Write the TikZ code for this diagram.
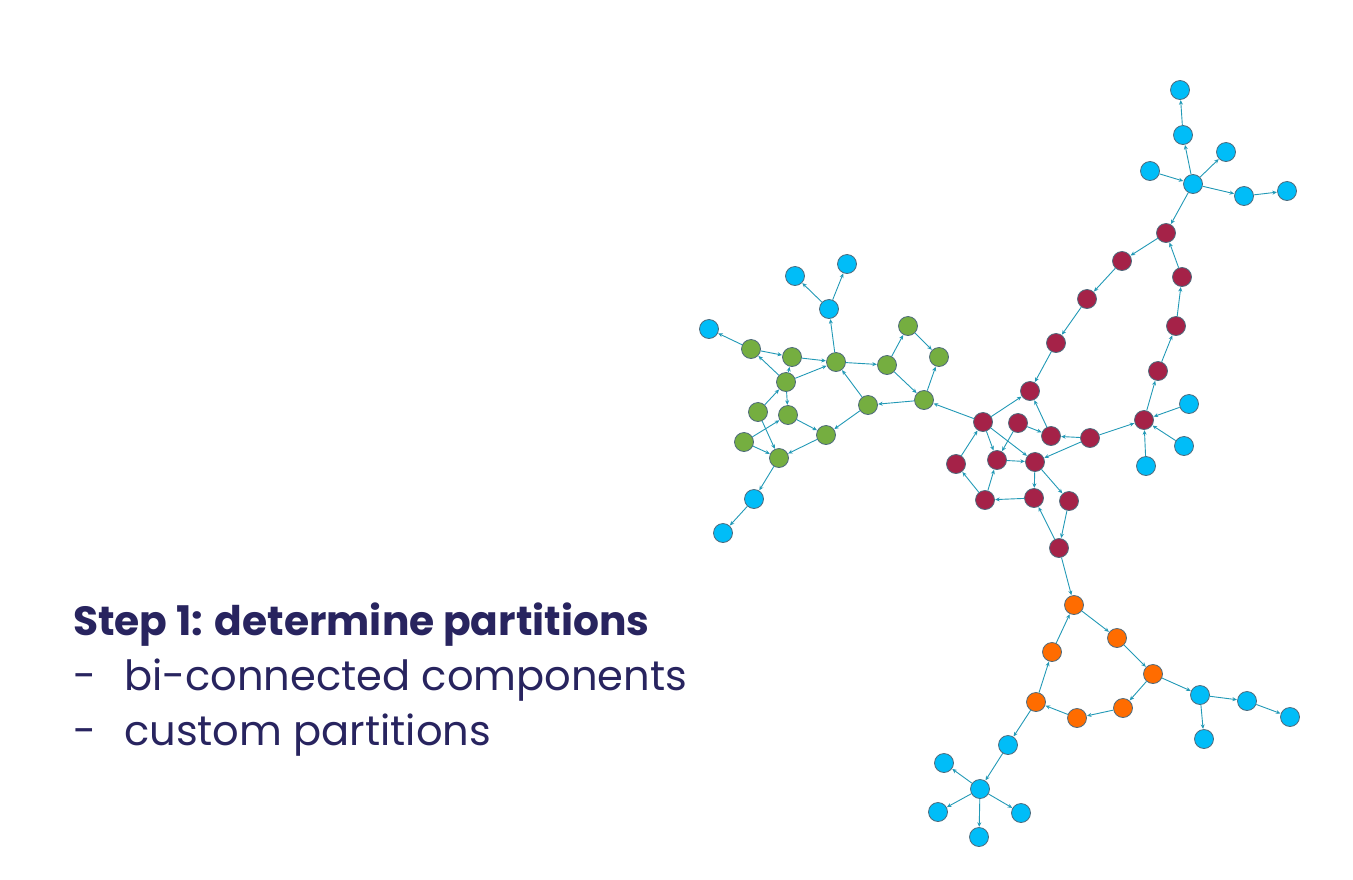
\documentclass[tikz,border=0pt]{standalone}
\usepackage{fontspec}
\setmainfont{Poppins}
\usetikzlibrary{arrows.meta}
\definecolor{cblue}{HTML}{00BDF8}
\definecolor{cgreen}{HTML}{75AE40}
\definecolor{cred}{HTML}{A52248}
\definecolor{corange}{HTML}{FF6C00}
\definecolor{cedge}{HTML}{2299B6}
\definecolor{cborder}{HTML}{4E6A7C}
\definecolor{ctext}{HTML}{28245F}
\tikzset{
  vtx/.style={circle, draw=cborder, line width=0.8pt, minimum size=19pt, inner sep=0pt},
  vb/.style={vtx, fill=cblue},
  vg/.style={vtx, fill=cgreen},
  vr/.style={vtx, fill=cred},
  vo/.style={vtx, fill=corange},
  arc/.style={draw=cedge, line width=0.9pt, -{Stealth[length=4.5pt,width=4pt]}, shorten >=0.3pt},
  txt/.style={anchor=base west, inner sep=0pt, text=ctext}
}
\begin{document}
\begin{tikzpicture}[x=1pt,y=-1pt]
\useasboundingbox (0,0) rectangle (1353,879);
% text
\node[txt, font=\fontsize{40.8}{48}\selectfont\bfseries] (t1) at (73,635) {Step 1: determine partitions};
\node[txt, font=\fontsize{41.6}{48}\selectfont] (t2) at (73,690) {-};
\node[txt, font=\fontsize{41.6}{48}\selectfont] (t3) at (124,690) {bi-connected components};
\node[txt, font=\fontsize{41.6}{48}\selectfont] (t4) at (73,745) {-};
\node[txt, font=\fontsize{41.6}{48}\selectfont] (t5) at (124,745) {custom partitions};
% top blue
\node[vb] (T1) at (1180,90) {};
\node[vb] (T2) at (1183,135) {};
\node[vb] (T3) at (1226,152) {};
\node[vb] (T4) at (1150,171) {};
\node[vb] (T5) at (1193,184) {};
\node[vb] (T6) at (1244,196) {};
\node[vb] (T7) at (1287,191) {};
% red
\node[vr] (R1) at (1166,233) {};
\node[vr] (R2) at (1122,261) {};
\node[vr] (R3) at (1087,299) {};
\node[vr] (R4) at (1056,343) {};
\node[vr] (R5) at (1030,391) {};
\node[vr] (R6) at (1182,277) {};
\node[vr] (R7) at (1176,326) {};
\node[vr] (R8) at (1158,371) {};
\node[vr] (R9) at (1144,420) {};
\node[vb] (B1) at (1189,404) {};
\node[vb] (B2) at (1184,446) {};
\node[vb] (B3) at (1146,466) {};
\node[vr] (Rb) at (983,422) {};
\node[vr] (Rc) at (1018,423) {};
\node[vr] (Rd) at (1051,436) {};
\node[vr] (Re) at (1090,438) {};
\node[vr] (Rf) at (956,464) {};
\node[vr] (Rg) at (997,460) {};
\node[vr] (Rh) at (1035,462) {};
\node[vr] (Ri) at (985,500) {};
\node[vr] (Rj) at (1034,498) {};
\node[vr] (Rk) at (1069,501) {};
\node[vr] (Rl) at (1059,548) {};
% orange
\node[vo] (O1) at (1074,605) {};
\node[vo] (O2) at (1117,638) {};
\node[vo] (O3) at (1153,674) {};
\node[vo] (O4) at (1052,652) {};
\node[vo] (O5) at (1036,702) {};
\node[vo] (O6) at (1077,718) {};
\node[vo] (O7) at (1123,708) {};
\node[vb] (C1) at (1200,695) {};
\node[vb] (C2) at (1247,701) {};
\node[vb] (C3) at (1290,717) {};
\node[vb] (C4) at (1204,739) {};
\node[vb] (L1) at (1008,745) {};
\node[vb] (L2) at (944,763) {};
\node[vb] (L3) at (980,789) {};
\node[vb] (L4) at (938,812) {};
\node[vb] (L5) at (1021,813) {};
\node[vb] (L6) at (979,837) {};
% green
\node[vb] (BL1) at (847,264) {};
\node[vb] (BL2) at (795,276) {};
\node[vb] (BL3) at (829,309) {};
\node[vb] (BL4) at (709,329) {};
\node[vg] (G1) at (751,349) {};
\node[vg] (G2) at (792,357) {};
\node[vg] (G3) at (836,362) {};
\node[vg] (G4) at (908,326) {};
\node[vg] (G5) at (939,357) {};
\node[vg] (G6) at (887,365) {};
\node[vg] (G7) at (786,382) {};
\node[vg] (G8) at (924,400) {};
\node[vg] (G9) at (868,405) {};
\node[vg] (G10) at (758,412) {};
\node[vg] (G11) at (788,415) {};
\node[vg] (G12) at (826,435) {};
\node[vg] (G13) at (744,442) {};
\node[vg] (G14) at (779,458) {};
\node[vb] (BL5) at (754,499) {};
\node[vb] (BL6) at (723,533) {};
% edges
\foreach \a/\b in {T2/T1,T5/T2,T5/T3,T4/T5,T5/T6,T6/T7,T5/R1,
  R1/R2,R2/R3,R3/R4,R4/R5,R6/R1,R7/R6,R8/R7,R9/R8,B1/R9,B2/R9,B3/R9,Re/R9,
  Rb/G8,Rb/R5,Rd/R5,Rc/Rd,Re/Rd,Re/Rh,Rb/Rg,Rb/Rh,Rc/Rg,Rg/Rh,Rf/Rb,Ri/Rf,Ri/Rg,
  Rj/Ri,Rh/Rj,Rh/Rk,Rl/Rj,Rk/Rl,Rl/O1,
  O1/O2,O2/O3,O3/O7,O7/O6,O6/O5,O5/O4,O4/O1,O3/C1,C1/C2,C2/C3,C1/C4,
  O5/L1,L1/L3,L3/L2,L3/L4,L3/L6,L3/L5,
  BL3/BL2,BL3/BL1,G3/BL3,G1/BL4,G1/G2,G2/G3,G7/G1,G7/G3,G7/G11,G7/G2,
  G3/G6,G6/G4,G4/G5,G8/G5,G6/G8,G8/G9,G9/G3,G9/G12,G11/G12,G12/G14,
  G10/G7,G10/G14,G13/G11,G13/G14,G14/BL5,BL5/BL6}
  \path[arc] (\a) -- (\b);
\end{tikzpicture}
\end{document}
